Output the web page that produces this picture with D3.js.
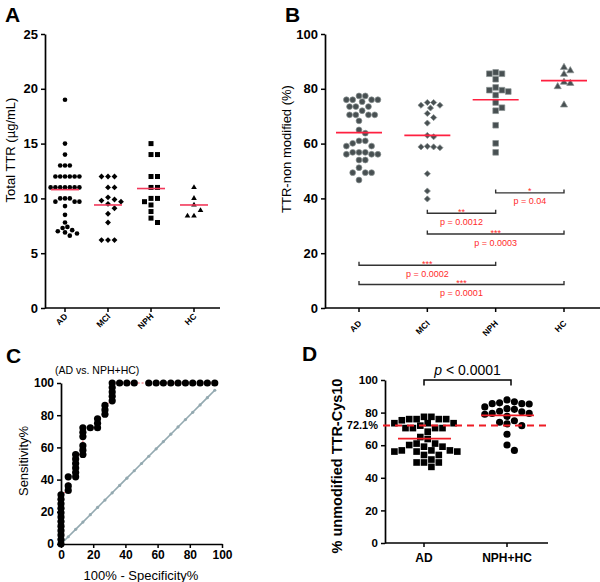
<!DOCTYPE html>
<html>
<head>
<meta charset="utf-8">
<script src="https://cdn.jsdelivr.net/npm/d3@7"></script>
<style>
  body { margin: 0; background: #fff; }
  svg { display: block; font-family: "Liberation Sans", Arial, sans-serif; }
</style>
</head>
<body>
<svg width="600" height="582"></svg>
<script>
// ---- data ----
const groups = ["AD", "MCI", "NPH", "HC"];

// panel A: total TTR (ug/mL)
const aAD = [19, 15, 14, 13, 13, 13, 12, 12, 12, 12, 12, 12, 11, 11, 11, 11, 11, 11, 11,
  10, 10, 10, 9.7, 9.7, 9.7, 9.3, 8.5, 7.8, 7.4, 7.3, 7.1, 7.0, 6.9, 6.8, 6.6];
const aMCI = [12, 12, 12, 11, 11, 10.1, 9.9, 9.8, 9.7, 9.5, 9.1, 8.6, 7.8, 6.2, 6.2, 6.2];
const aNPH = [15, 14, 14, 12, 12, 11, 11, 10, 10, 9.7, 9.4, 8.8, 8.2, 7.8];
const aHC = [11, 10, 9.4, 8.9, 8.4, 8.4];
const aMeans = [10.8, 9.4, 10.9, 9.4];
const aTicks = [0, 5, 10, 15, 20, 25];

// panel B: TTR-non modified (%)
const bAD = [77.4, 77.4, 76, 76, 76, 76, 75.3, 73.5, 73.5, 73.5, 72, 70.5, 70.5, 70.5, 70.5,
  68.3, 65, 63.8, 61, 61, 60.1, 59.1, 59.1, 56.8, 56.8, 56.8, 56.1, 56.1, 56.1, 54, 54,
  51.2, 49.4, 49.4, 49.4, 46.7];
const bMCI = [75, 75, 74, 74, 73, 71, 69.5, 67.5, 63, 62.5, 59, 58.8, 58.5, 58.8, 49, 42.7, 39.8];
const bNPH = [86, 85.5, 85.5, 83.5, 80.5, 79.5, 79.5, 79, 77.7, 75, 73.1, 72, 66.7, 60.1, 56.8];
const bHC = [87.8, 86.6, 85.3, 82.4, 82, 80.8, 74.1];
const bMeans = [64, 63, 76, 83];
const bTicks = [0, 20, 40, 60, 80, 100];

// panel B comparisons
const cmpFrom = ["NPH", "MCI", "MCI", "AD", "AD"];
const cmpTo = ["HC", "NPH", "HC", "NPH", "HC"];
const cmpY = [42, 34.6, 27, 15.6, 8.6];
const cmpStars = ["*", "**", "***", "***", "***"];
const cmpP = ["p = 0.04", "p = 0.0012", "p = 0.0003", "p = 0.0002", "p = 0.0001"];

// panel C: ROC (AD vs. NPH+HC)
const rocFpr = [0, 0, 0, 0, 0, 0, 0, 0, 0, 0, 0, 0,
  4.5, 4.5, 4.5,
  9.1, 9.1, 9.1, 9.1, 9.1, 9.1,
  13.6, 13.6, 13.6, 13.6, 13.6, 13.6,
  18.2,
  22.7, 22.7, 22.7,
  27.3, 27.3, 27.3,
  31.8, 31.8, 31.8, 31.8, 31.8,
  36.4, 40.9, 45.5,
  54.5, 59.1, 63.6, 68.2, 72.7, 77.3, 81.8, 86.4, 90.9, 95.5];
const rocSens = [0, 2.8, 5.6, 8.3, 11.1, 13.9, 16.7, 19.4, 22.2, 25, 27.8, 30.6,
  33.3, 36.1, 41.7,
  41.7, 44.4, 47.2, 50, 52.8, 55.6,
  55.6, 58.3, 61.1, 66.7, 69.4, 72.2,
  72.2,
  72.2, 75, 77.8,
  80.6, 83.3, 86.1,
  88.9, 91.7, 94.4, 97.2, 100,
  100, 100, 100,
  100, 100, 100, 100, 100, 100, 100, 100, 100, 100];
const refLine = [0, 4.5, 9.1, 13.6, 18.2, 22.7, 27.3, 31.8, 36.4, 40.9, 45.5, 50,
  54.5, 59.1, 63.6, 68.2, 72.7, 77.3, 81.8, 86.4, 90.9, 95.5];
const cTicks = [0, 20, 40, 60, 80, 100];

// panel D
const dGroups = ["AD", "NPH+HC"];
const dAD = bAD;
const dCtrl = bNPH.concat(bHC);
const dMeans = [64, 78.3];
const dCutoff = 72.1;
const dTicks = [0, 20, 40, 60, 80, 100];

// ---- helpers ----
const svg = d3.select("svg");
const FONT = "\"Liberation Sans\", Arial, sans-serif";

// simple beeswarm: rows of close values spread sideways around the column centre
function swarm(values, y, cx, s) {
  const pts = values.map(v => ({ v: v, y: y(v) })).sort((a, b) => b.v - a.v);
  const placed = [];
  pts.forEach(p => {
    for (let k = 0; k < 80; k++) {
      const off = (k % 2 ? 1 : -1) * Math.ceil(k / 2) * s / 2;
      const ok = placed.every(q => (q.x - cx - off) ** 2 + (q.y - p.y) ** 2 >= s * s * 0.97);
      if (ok) { p.x = cx + off; break; }
    }
    placed.push(p);
  });
  return placed;
}

function yAxis(g, scale, ticks, x, size) {
  const ax = g.append("g")
    .attr("transform", `translate(${x},0)`)
    .call(d3.axisLeft(scale).tickValues(ticks).tickSize(4).tickSizeOuter(0).tickPadding(3));
  ax.select(".domain").attr("stroke-width", 1.7);
  ax.selectAll(".tick line").attr("stroke-width", 1.5);
  ax.selectAll("text").attr("font-family", FONT).attr("font-size", size)
    .attr("font-weight", "bold").attr("fill", "#000");
  return ax;
}

function panelLetter(x, y, t) {
  svg.append("text").attr("x", x).attr("y", y).text(t)
    .attr("font-size", 21).attr("font-weight", "bold");
}

function vTitle(x, y, t, size, weight) {
  svg.append("text").attr("transform", `translate(${x},${y}) rotate(-90)`)
    .attr("text-anchor", "middle").attr("font-size", size)
    .attr("font-weight", weight || "normal").text(t);
}

function markers(g, pts, shape, area, fill, stroke) {
  const sym = d3.symbol().type(shape).size(area);
  g.selectAll(null).data(pts).enter().append("path")
    .attr("d", sym)
    .attr("transform", d => `translate(${d.x},${d.y})` + (shape === d3.symbolSquare && d.rot ? " rotate(45)" : ""))
    .attr("fill", fill)
    .attr("stroke", stroke || "none")
    .attr("stroke-width", stroke ? 0.7 : 0);
}

function catAxis(g, x, yBase, x0, x1, dx, dy) {
  g.append("line").attr("x1", x0).attr("x2", x1).attr("y1", yBase).attr("y2", yBase)
    .attr("stroke", "#000").attr("stroke-width", 1.7);
  groups.forEach(c => {
    g.append("line").attr("x1", x(c)).attr("x2", x(c)).attr("y1", yBase).attr("y2", yBase + 4)
      .attr("stroke", "#000").attr("stroke-width", 1.5);
    g.append("text").attr("transform", `translate(${x(c) + dx},${yBase + dy}) rotate(-45)`)
      .attr("text-anchor", "end").attr("font-size", 8.5).attr("font-weight", "bold").text(c);
  });
}

// ---- panel A ----
{
  const g = svg.append("g");
  const y = d3.scaleLinear().domain([0, 25]).range([308, 34]);
  const x = d3.scalePoint().domain(groups).range([65, 194]);
  panelLetter(5, 22, "A");
  yAxis(g, y, aTicks, 45, 13);
  catAxis(g, x, 308, 45, 220, 3, 9);
  vTitle(15, 150, "Total TTR (\u00b5g/mL)", 13);

  const sets = [aAD, aMCI, aNPH, aHC];
  const shapes = [d3.symbolCircle, d3.symbolSquare, d3.symbolSquare, d3.symbolTriangle];
  const areas = [17, 17, 25, 14];
  const gaps = [4.8, 6.5, 6.5, 6.5];
  sets.forEach((vals, i) => {
    const pts = swarm(vals, y, x(groups[i]), gaps[i]);
    if (i === 1) pts.forEach(p => p.rot = true);
    markers(g, pts, shapes[i], areas[i], "#000");
  });
  g.selectAll(null).data(aMeans).enter().append("line")
    .attr("x1", (d, i) => x(groups[i]) - 14).attr("x2", (d, i) => x(groups[i]) + 14)
    .attr("y1", d => y(d)).attr("y2", d => y(d))
    .attr("stroke", "#f2385a").attr("stroke-width", 1.6);
}

// ---- panel B ----
{
  const g = svg.append("g");
  const y = d3.scaleLinear().domain([0, 100]).range([308, 34]);
  const x = d3.scalePoint().domain(groups).range([359, 564]);
  panelLetter(285, 22, "B");
  yAxis(g, y, bTicks, 325, 13);
  catAxis(g, x, 308, 325, 600, 3, 16);
  vTitle(291, 149, "TTR-non modified (%)", 13);

  const sets = [bAD, bMCI, bNPH, bHC];
  const shapes = [d3.symbolCircle, d3.symbolSquare, d3.symbolSquare, d3.symbolTriangle];
  const areas = [27, 19, 32, 22];
  sets.forEach((vals, i) => {
    const pts = swarm(vals, y, x(groups[i]), 6.3);
    if (i === 1) pts.forEach(p => p.rot = true);
    markers(g, pts, shapes[i], areas[i], "#485052", "#8a9292");
  });
  g.selectAll(null).data(bMeans).enter().append("line")
    .attr("x1", (d, i) => x(groups[i]) - 23).attr("x2", (d, i) => x(groups[i]) + 23)
    .attr("y1", d => y(d)).attr("y2", d => y(d))
    .attr("stroke", "#ff2040").attr("stroke-width", 1.6);

  cmpY.forEach((v, i) => {
    const x0 = x(cmpFrom[i]), x1 = x(cmpTo[i]), yy = y(v);
    g.append("path").attr("d", `M${x0},${yy - 3.5}V${yy}H${x1}V${yy - 3.5}`)
      .attr("fill", "none").attr("stroke", "#333").attr("stroke-width", 1.4);
    g.append("text").attr("x", (x0 + x1) / 2).attr("y", yy + 1.5)
      .attr("text-anchor", "middle").attr("font-size", 9).attr("fill", "#ff2a2a").text(cmpStars[i]);
    g.append("text").attr("x", (x0 + x1) / 2).attr("y", yy + 11.5)
      .attr("text-anchor", "middle").attr("font-size", 9).attr("fill", "#ff2a2a").text(cmpP[i]);
  });
}

// ---- panel C ----
{
  const g = svg.append("g");
  const x = d3.scaleLinear().domain([0, 100]).range([61, 222]);
  const y = d3.scaleLinear().domain([0, 100]).range([544, 383]);
  panelLetter(6, 363, "C");
  yAxis(g, y, cTicks, 61, 12);
  const ax = g.append("g").attr("transform", "translate(0,544)")
    .call(d3.axisBottom(x).tickValues(cTicks).tickSize(4).tickSizeOuter(0).tickPadding(2));
  ax.select(".domain").attr("stroke-width", 1.7);
  ax.selectAll(".tick line").attr("stroke-width", 1.5);
  ax.selectAll("text").attr("font-family", FONT).attr("font-size", 12)
    .attr("font-weight", "bold").attr("fill", "#000");

  svg.append("text").attr("x", 55).attr("y", 374).attr("font-size", 10.5).text("(AD vs. NPH+HC)");
  svg.append("text").attr("x", 141).attr("y", 580).attr("text-anchor", "middle")
    .attr("font-size", 13).text("100% - Specificity%");
  vTitle(28, 461, "Sensitivity%", 13);

  // reference diagonal
  g.append("path").attr("d", d3.line().x(d => x(d)).y(d => y(d))(refLine))
    .attr("fill", "none").attr("stroke", "#93a9b0").attr("stroke-width", 1.6);
  g.selectAll(null).data(refLine).enter().append("circle")
    .attr("cx", d => x(d)).attr("cy", d => y(d)).attr("r", 1.6).attr("fill", "#93a9b0");

  const roc = rocFpr.map((f, i) => [f, rocSens[i]]);
  g.append("path").attr("d", d3.line().x(d => x(d[0])).y(d => y(d[1]))(roc))
    .attr("fill", "none").attr("stroke", "#e8303a").attr("stroke-width", 0.8)
    .attr("stroke-dasharray", "2,2");
  g.selectAll(null).data(roc).enter().append("circle")
    .attr("cx", d => x(d[0])).attr("cy", d => y(d[1])).attr("r", 3.6).attr("fill", "#000");
}

// ---- panel D ----
{
  const g = svg.append("g");
  const y = d3.scaleLinear().domain([0, 100]).range([543, 380]);
  const x = d3.scalePoint().domain(dGroups).range([424, 507]);
  panelLetter(302, 361, "D");
  yAxis(g, y, dTicks, 385, 11.5);
  g.append("line").attr("x1", 385).attr("x2", 548).attr("y1", 543).attr("y2", 543)
    .attr("stroke", "#000").attr("stroke-width", 1.7);
  dGroups.forEach(c => {
    g.append("line").attr("x1", x(c)).attr("x2", x(c)).attr("y1", 543).attr("y2", 547)
      .attr("stroke", "#000").attr("stroke-width", 1.5);
    g.append("text").attr("x", x(c)).attr("y", 562).attr("text-anchor", "middle")
      .attr("font-size", 12).attr("font-weight", "bold").text(c);
  });
  vTitle(342, 466, "% unmodified TTR-Cys10", 14.5, "bold");

  markers(g, swarm(dAD, y, x("AD"), 7.4), d3.symbolSquare, 44, "#000");
  markers(g, swarm(dCtrl, y, x("NPH+HC"), 7.4), d3.symbolCircle, 40, "#000");

  g.selectAll(null).data(dMeans).enter().append("line")
    .attr("x1", (d, i) => x(dGroups[i]) - 26).attr("x2", (d, i) => x(dGroups[i]) + 27)
    .attr("y1", d => y(d)).attr("y2", d => y(d))
    .attr("stroke", "#ee1c25").attr("stroke-width", 1.8);

  g.append("line").attr("x1", 383).attr("x2", 546).attr("y1", y(dCutoff)).attr("y2", y(dCutoff))
    .attr("stroke", "#ee1c25").attr("stroke-width", 2).attr("stroke-dasharray", "7,5");
  g.append("text").attr("x", 378).attr("y", y(dCutoff) + 4).attr("text-anchor", "end")
    .attr("font-size", 11).attr("font-weight", "bold").text(dCutoff + "%");

  const bx0 = x("AD"), bx1 = x("NPH+HC") + 4, by = 380;
  g.append("path").attr("d", `M${bx0},${by + 5.5}V${by}H${bx1}V${by + 5.5}`)
    .attr("fill", "none").attr("stroke", "#000").attr("stroke-width", 1.5);
  const pt = g.append("text").attr("x", (bx0 + bx1) / 2).attr("y", 375)
    .attr("text-anchor", "middle").attr("font-size", 14);
  pt.append("tspan").attr("font-style", "italic").text("p");
  pt.append("tspan").text(" < 0.0001");
}
</script>
</body>
</html>
